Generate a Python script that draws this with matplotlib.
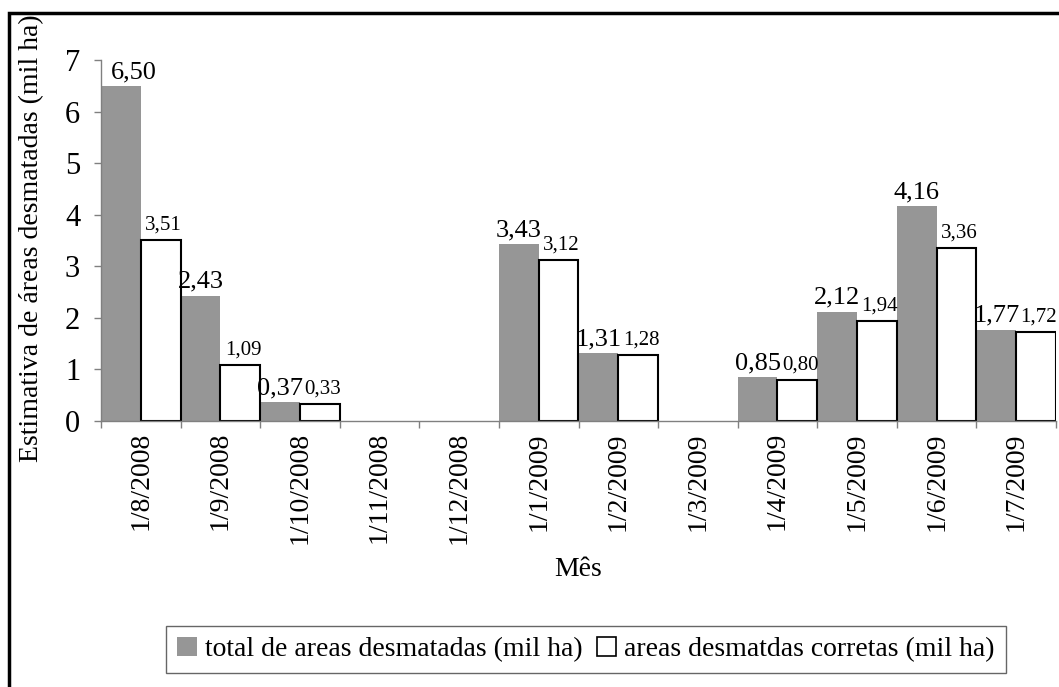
import numpy as np
import matplotlib.pyplot as plt
from matplotlib.patches import Patch, Rectangle

plt.rcParams['font.family'] = ['Liberation Serif', 'DejaVu Serif']

# Dados
meses = ["1/8/2008", "1/9/2008", "1/10/2008", "1/11/2008", "1/12/2008", "1/1/2009",
         "1/2/2009", "1/3/2009", "1/4/2009", "1/5/2009", "1/6/2009", "1/7/2009"]
total = [6.50, 2.43, 0.37, 0, 0, 3.43, 1.31, 0, 0.85, 2.12, 4.16, 1.77]
corretas = [3.51, 1.09, 0.33, 0, 0, 3.12, 1.28, 0, 0.80, 1.94, 3.36, 1.72]

CINZA = '#969696'
EIXO = '#808080'

fig = plt.figure(figsize=(10.59, 6.87), dpi=100)
ax = fig.add_axes([101/1059, 1 - 421/687, (1056 - 101)/1059, (421 - 60)/687])

x = np.arange(len(meses))
w = 0.5
# meses sem valor não desenham barra
t = np.array(total, dtype=float)
c = np.array(corretas, dtype=float)
t[t == 0] = np.nan
c[c == 0] = np.nan
ax.bar(x - w/2, t, width=w, color=CINZA, edgecolor='none')
ax.bar(x + w/2, c, width=w, color='white', edgecolor='black', linewidth=1.5)

# Rótulos de valores (vírgula decimal)
for i in range(len(meses)):
    if total[i] > 0:
        dx = 9 if i == 0 else 0   # o primeiro rótulo fica afastado do eixo
        ax.annotate(f"{total[i]:.2f}".replace('.', ','), (x[i] - w/2, total[i]),
                    xytext=(dx, 2), textcoords='offset points', ha='center', va='bottom',
                    fontsize=19)
    if corretas[i] > 0:
        ax.annotate(f"{corretas[i]:.2f}".replace('.', ','), (x[i] + w/2, corretas[i]),
                    xytext=(2, 4), textcoords='offset points', ha='center', va='bottom',
                    fontsize=15)

ax.set_xlim(-0.5, len(meses) - 0.5)
ax.set_ylim(0, 7)
ax.set_yticks(range(8))
ax.tick_params(axis='y', labelsize=22, length=5, color=EIXO, width=1, pad=10)
ax.set_xticks(x)
ax.set_xticklabels(meses, rotation=90, fontsize=20)
ax.tick_params(axis='x', which='major', length=0, pad=8)
ax.set_xticks(np.arange(-0.5, len(meses)), minor=True)
ax.tick_params(axis='x', which='minor', length=5, color=EIXO, width=1)

for s in ['top', 'right']:
    ax.spines[s].set_visible(False)
for s in ['left', 'bottom']:
    ax.spines[s].set_color(EIXO)
    ax.spines[s].set_linewidth(1)

fig.text(32/1059, 1 - 238/687, "Estimativa de áreas desmatadas (mil ha)", rotation=90,
         ha='center', va='center', fontsize=20)
fig.text(578/1059, 1 - 570/687, "Mês", ha='center', va='center', fontsize=20)

handles = [Patch(facecolor=CINZA, edgecolor='none', label="total de areas desmatadas (mil ha)"),
           Patch(facecolor='white', edgecolor='black', linewidth=1.2,
                 label="areas desmatdas corretas (mil ha)")]
leg = fig.legend(handles=handles, loc='center', bbox_to_anchor=(586/1059, 1 - 649.5/687),
                 ncol=2, fontsize=20, frameon=True, fancybox=False, handlelength=0.7,
                 handleheight=0.7, handletextpad=0.3, columnspacing=0.5,
                 borderpad=0.4, borderaxespad=0, edgecolor='#404040')
leg.get_frame().set_linewidth(1)

# Moldura da figura
fig.patches.append(Rectangle((9/1059, -0.01), 1.1, 1 - 13/687 + 0.01, transform=fig.transFigure,
                             fill=False, edgecolor='black', linewidth=2.5))

fig.savefig('out.png', dpi=100)
